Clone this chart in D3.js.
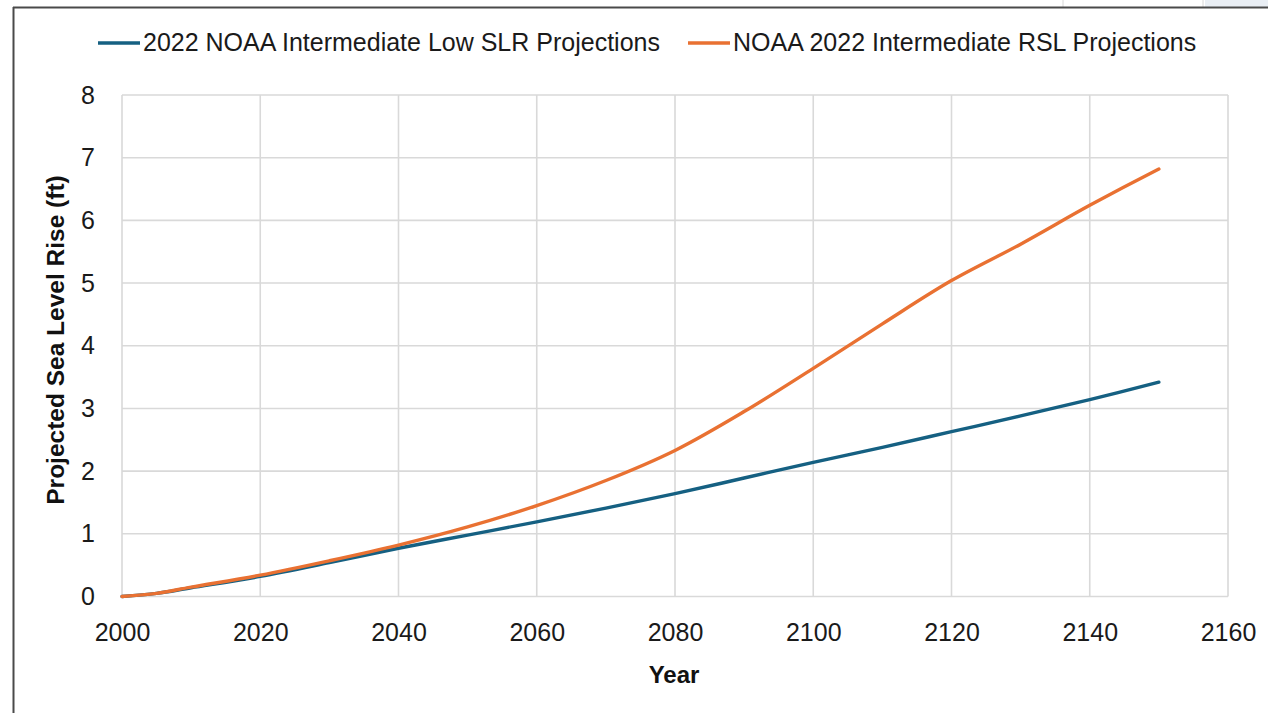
<!DOCTYPE html>
<html lang="en">
<head>
<meta charset="utf-8">
<title>Projected sea level rise</title>
<script src="https://cdnjs.cloudflare.com/ajax/libs/d3/7.8.5/d3.min.js"></script>
<style>
  body{ margin:0; background:#fff; }
  svg{ display:block; font-family:"Liberation Sans", Arial, sans-serif; }
</style>
</head>
<body>
<div id="chart"></div>
<script>
// data (feet of rise)
var years = [2000, 2005, 2010, 2020, 2030, 2040, 2050, 2060, 2070, 2080, 2090, 2100, 2110, 2120, 2130, 2140, 2150]
var lowSLR = [0, 0.05, 0.14, 0.32, 0.54, 0.77, 0.98, 1.19, 1.41, 1.64, 1.89, 2.14, 2.38, 2.63, 2.88, 3.14, 3.42]
var intRSL = [0, 0.05, 0.15, 0.34, 0.57, 0.82, 1.11, 1.45, 1.85, 2.33, 2.95, 3.64, 4.35, 5.04, 5.62, 6.24, 6.82]
var seriesNames = ["2022 NOAA Intermediate Low SLR Projections", "NOAA 2022 Intermediate RSL Projections"]
var seriesColors = ["#156082", "#E97132"]
var xTicks = [2000, 2020, 2040, 2060, 2080, 2100, 2120, 2140, 2160]
var yTicks = [0, 1, 2, 3, 4, 5, 6, 7, 8]

var W = 1268, H = 713
// plot box (window.top is read-only, so no "top" here)
var plotL = 122, plotR = 1228, plotT = 95, plotB = 596.5

var svg = d3.select("#chart").append("svg").attr("width", W).attr("height", H)

// bits of the screenshot frame
svg.append("rect").attr("x", 1205).attr("y", 0).attr("width", 63).attr("height", 7).attr("fill", "#e9eef4")
svg.append("line").attr("x1", 1063).attr("x2", 1063).attr("y1", 0).attr("y2", 7).attr("stroke", "#d8d8d8")
svg.append("line").attr("x1", 1203).attr("x2", 1203).attr("y1", 0).attr("y2", 7).attr("stroke", "#d8d8d8")
svg.append("line").attr("x1", 13).attr("x2", W).attr("y1", 7.5).attr("y2", 7.5).attr("stroke", "#4a4a4a").attr("stroke-width", 2)
svg.append("line").attr("x1", 13.5).attr("x2", 13.5).attr("y1", 7).attr("y2", H).attr("stroke", "#4a4a4a").attr("stroke-width", 2)

var x = d3.scaleLinear().domain([2000, 2160]).range([plotL, plotR])
var y = d3.scaleLinear().domain([0, 8]).range([plotB, plotT])

// grid
var grid = svg.append("g").attr("stroke", "#d9d9d9").attr("stroke-width", 1.6)
grid.selectAll(".hg").data(yTicks).enter().append("line")
  .attr("x1", plotL).attr("x2", plotR)
  .attr("y1", function(d){ return y(d) }).attr("y2", function(d){ return y(d) })
grid.selectAll(".vg").data(xTicks).enter().append("line")
  .attr("y1", plotT).attr("y2", plotB)
  .attr("x1", function(d){ return x(d) }).attr("x2", function(d){ return x(d) })

// axes, text only
svg.append("g").attr("transform", "translate(0," + plotB + ")")
  .call(d3.axisBottom(x).tickValues(xTicks).tickFormat(d3.format("d")).tickSize(0).tickPadding(27))
svg.append("g").attr("transform", "translate(" + plotL + ",0)")
  .call(d3.axisLeft(y).tickValues(yTicks).tickSize(0).tickPadding(27))
svg.selectAll(".domain").remove()
svg.selectAll(".tick text").attr("font-size", 25).attr("fill", "#1a1a1a")
  .attr("font-family", "'Liberation Sans', Arial, sans-serif")

// lines, smoothed like the spreadsheet's
var line = d3.line().curve(d3.curveCatmullRom.alpha(0.5))
  .x(function(d, i){ return x(years[i]) })
  .y(function(d){ return y(d) })

;[lowSLR, intRSL].forEach(function(s, k){
  svg.append("path").datum(s)
    .attr("d", line)
    .attr("fill", "none")
    .attr("stroke", seriesColors[k])
    .attr("stroke-width", 3.4)
    .attr("stroke-linecap", "round")
})

// legend
var legX = [98, 688]
seriesNames.forEach(function(n, k){
  svg.append("line").attr("x1", legX[k]).attr("x2", legX[k] + 42).attr("y1", 43).attr("y2", 43)
    .attr("stroke", seriesColors[k]).attr("stroke-width", 3.4)
  svg.append("text").attr("x", legX[k] + 45).attr("y", 51).attr("font-size", 25).attr("fill", "#1a1a1a")
    .text(n)
})

// axis titles
svg.append("text").attr("x", 674).attr("y", 683).attr("text-anchor", "middle")
  .attr("font-size", 24).attr("font-weight", "bold").attr("fill", "#111").text("Year")
svg.append("text").attr("transform", "translate(64,340) rotate(-90)").attr("text-anchor", "middle")
  .attr("font-size", 24.5).attr("font-weight", "bold").attr("fill", "#111").text("Projected Sea Level Rise (ft)")
</script>
</body>
</html>
